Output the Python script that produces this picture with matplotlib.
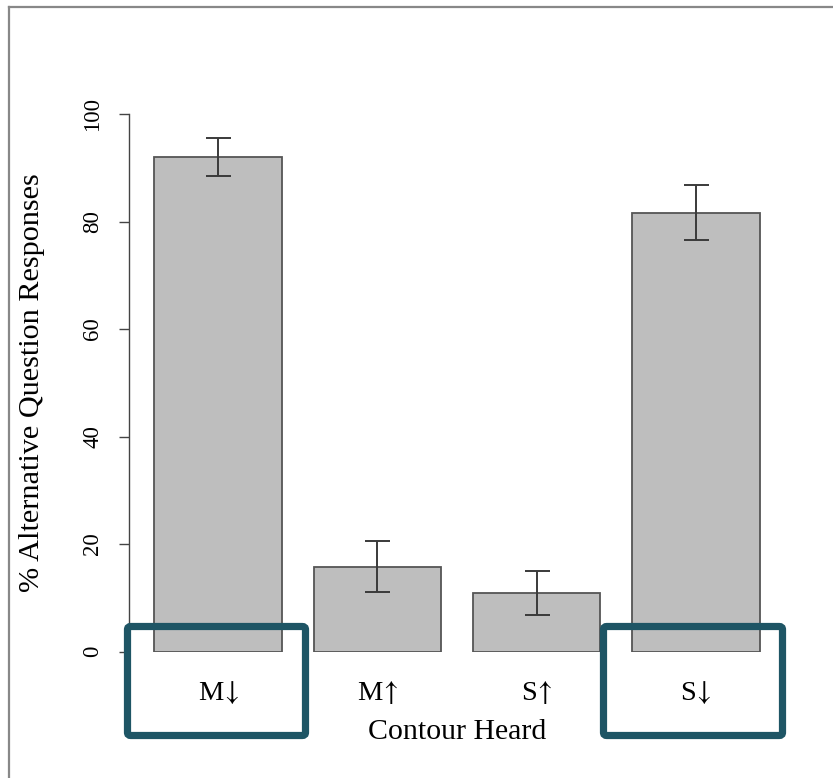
import numpy as np
import matplotlib
matplotlib.use('Agg')
import matplotlib.pyplot as plt
from matplotlib.patches import FancyBboxPatch
from matplotlib.lines import Line2D

# data
contours = ['M$\\!\\downarrow$', 'M$\\!\\uparrow$', 'S$\\!\\uparrow$', 'S$\\!\\downarrow$']
pct_alt = [92.0, 15.8, 10.9, 81.6]
err = [3.6, 4.75, 4.1, 5.1]
highlighted = [0, 3]

plt.rcParams['font.family'] = ['Liberation Serif', 'DejaVu Serif']
plt.rcParams['mathtext.fontset'] = 'stix'

W, H = 833, 778
fig = plt.figure(figsize=(W / 100, H / 100), dpi=100)

# axes placed in pixels (left spine, zero line, 100 line)
ax_l, ax_r, ax_top, ax_bot = 129, 790, 114, 651.5
ax = fig.add_axes([ax_l / W, (H - ax_bot) / H, (ax_r - ax_l) / W, (ax_bot - ax_top) / H])

x = np.arange(len(contours))
px_per_unit = 159.3
ax.set_xlim(-(218 - ax_l) / px_per_unit, (ax_r - 218) / px_per_unit)
ax.set_ylim(0, 100)

ax.bar(x, pct_alt, width=0.8, color='#bebebe', edgecolor='#555555', linewidth=1.3, zorder=2)
ax.errorbar(x, pct_alt, yerr=err, fmt='none', ecolor='#3a3a3a', elinewidth=1.4,
            capsize=9, capthick=1.4, zorder=3)

for s in ['top', 'right', 'bottom']:
    ax.spines[s].set_visible(False)
ax.spines['left'].set_color('#444444')
ax.spines['left'].set_linewidth(1.0)

ax.set_yticks([0, 20, 40, 60, 80, 100])
ax.tick_params(axis='y', length=7.5, width=1.0, color='#444444', pad=11, labelsize=16.5)
for lab in ax.get_yticklabels():
    lab.set_rotation(90)
    lab.set_verticalalignment('center')

ax.set_xticks(x)
ax.set_xticklabels(contours, fontsize=20.5)
ax.tick_params(axis='x', length=0, pad=20)

ax.set_ylabel('% Alternative Question Responses', fontsize=21.8)
ax.yaxis.set_label_coords((45 - ax_l) / (ax_r - ax_l), 0.5)
ax.set_xlabel('Contour Heard', fontsize=21.5)
ax.xaxis.set_label_coords((457 - ax_l) / (ax_r - ax_l), -(732 - ax_bot) / (ax_bot - ax_top))
ax.xaxis.label.set_verticalalignment('center')

# teal highlight boxes around the falling contours
box_x = {0: (127.5, 305.5), 3: (603.5, 782.5)}
box_y = (626.5, 735.5)
for i in highlighted:
    x0, x1 = box_x[i]
    fig.patches.append(FancyBboxPatch(
        (x0 / W, (H - box_y[1]) / H), (x1 - x0) / W, (box_y[1] - box_y[0]) / H,
        boxstyle='round,pad=0,rounding_size=0.004', transform=fig.transFigure,
        facecolor='none', edgecolor='#1e5565', linewidth=5.2, zorder=5))

# page frame of the screenshot
fig.add_artist(Line2D([9 / W, 9 / W], [0, (H - 7) / H], color='#888888', linewidth=1.6))
fig.add_artist(Line2D([9 / W, 1], [(H - 7) / H, (H - 7) / H], color='#888888', linewidth=1.6))

fig.savefig('out.png', dpi=100)
